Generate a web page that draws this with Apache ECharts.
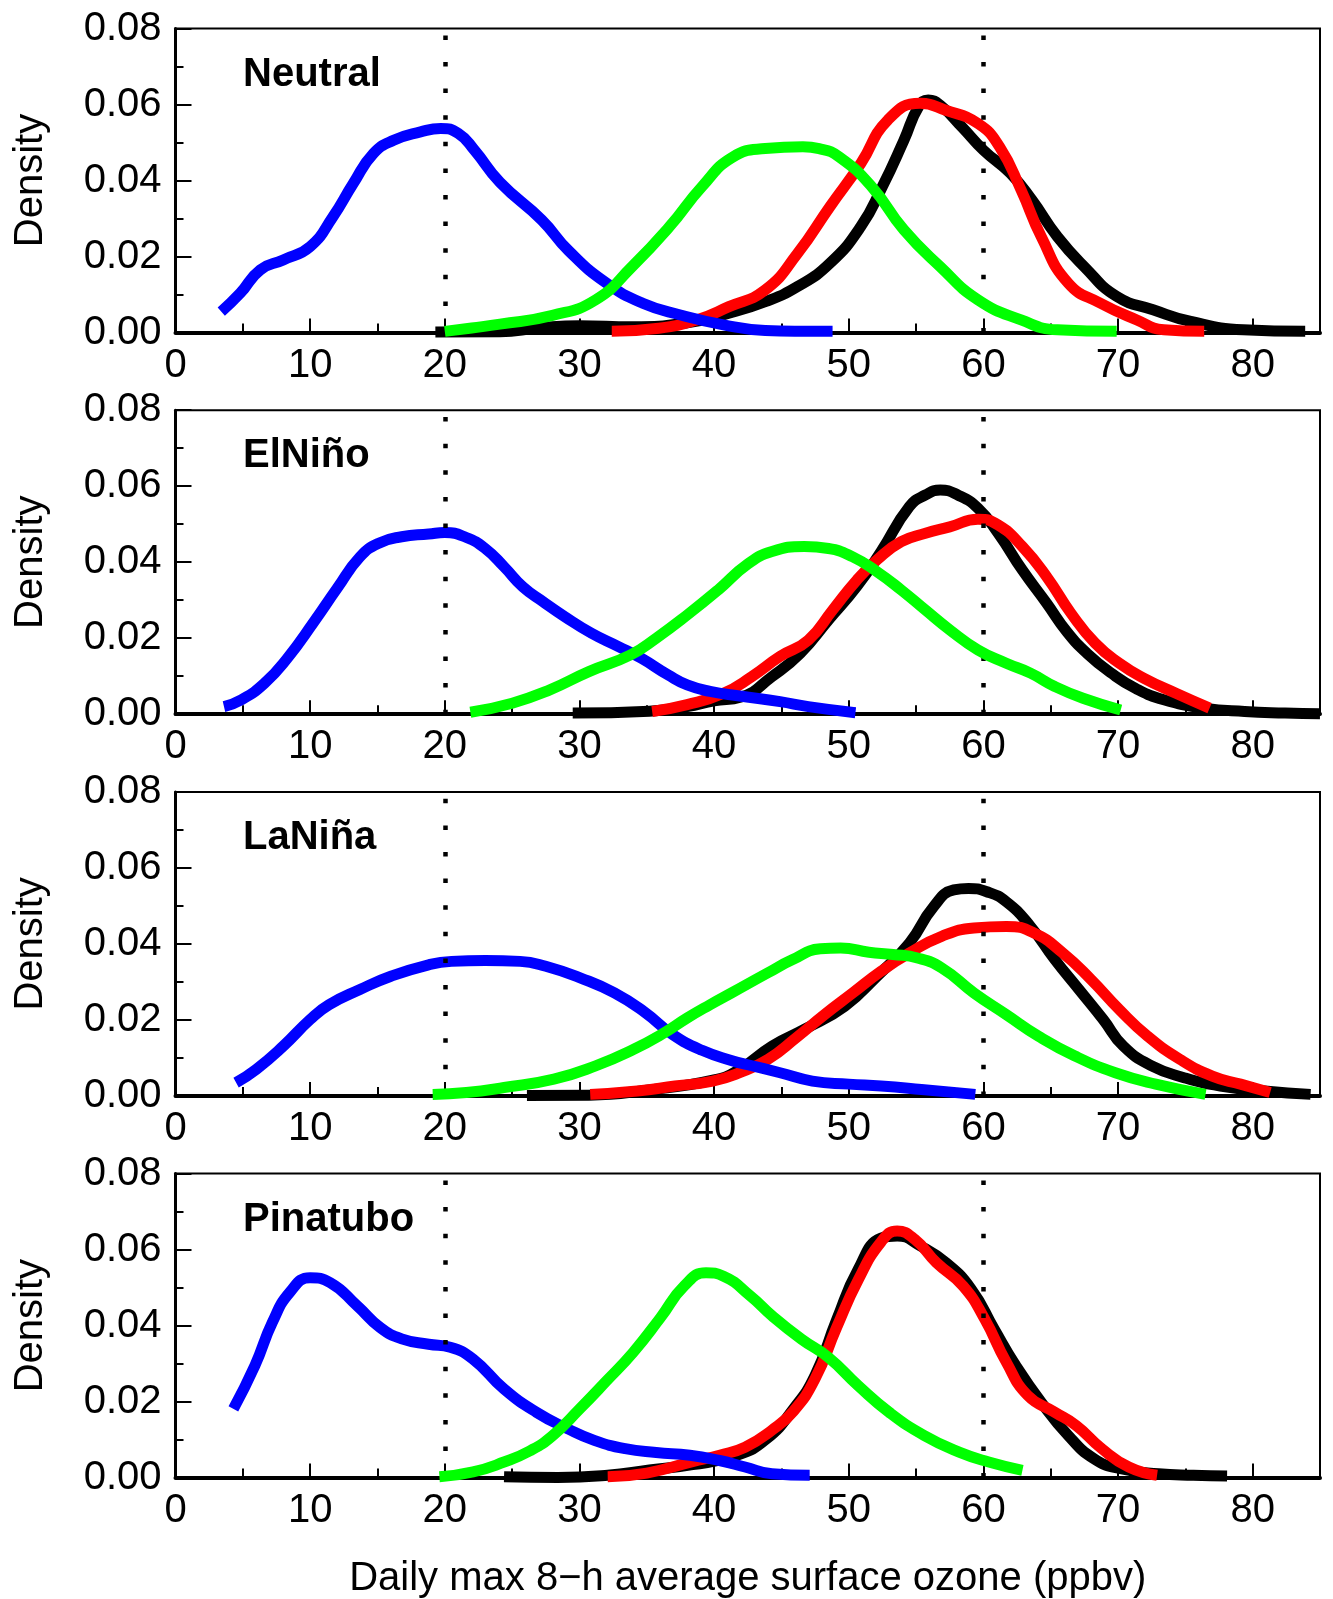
<!DOCTYPE html>
<html>
<head>
<meta charset="utf-8">
<script src="https://cdn.jsdelivr.net/npm/echarts@6/dist/echarts.min.js"></script>
<style>
html,body{margin:0;padding:0;background:#fff;}
#chart{width:1333px;height:1599px;}
</style>
</head>
<body>
<div id="chart"></div>
<script>
// ---------- DATA ----------
const panelNames = ['Neutral', 'ElNiño', 'LaNiña', 'Pinatubo'];
const xTicks = [0, 10, 20, 30, 40, 50, 60, 70, 80];
const yTicks = [0.00, 0.02, 0.04, 0.06, 0.08];
const thresholds = [20, 60];
const xTitle = 'Daily max 8\u2212h average surface ozone (ppbv)';
const yTitle = 'Density';

// Neutral
const neutralBlack = [[19.3,0.0001],[24.1,0.0002],[27,0.0012],[30.0,0.0018],[33.9,0.0015],[37.9,0.0025],[41.1,0.0051],[43.8,0.0081],[46.2,0.0121],[48.6,0.0182],[50.9,0.0279],[52.5,0.0384],[54.1,0.0506],[55.2,0.0595],[55.9,0.0612],[56.8,0.0598],[58.4,0.0541],[60.0,0.0480],[62.0,0.0419],[63.6,0.0349],[65.5,0.0252],[67.5,0.0173],[69.9,0.0095],[72.6,0.0060],[75.4,0.0029],[79.3,0.0007],[83.9,0.0003]];
const neutralRed = [[32.4,0.0003],[35.9,0.0011],[38.7,0.0033],[41.1,0.0068],[43.8,0.0112],[46.2,0.0208],[48.6,0.0331],[50.9,0.0445],[52.9,0.0559],[55.3,0.0603],[57.2,0.0585],[59.6,0.0550],[61.2,0.0489],[62.8,0.0375],[64.3,0.0252],[66.3,0.0130],[68.7,0.0077],[71.4,0.0033],[73.4,0.0007],[76.4,0.0003]];
const neutralBlue = [[3.4,0.0055],[4.8,0.0103],[6.3,0.0165],[8.0,0.0191],[10.0,0.0226],[11.7,0.0305],[13.2,0.0392],[14.7,0.0471],[16.2,0.0506],[18.2,0.0528],[19.7,0.0537],[21.0,0.0524],[22.2,0.0480],[24.1,0.0395],[27.2,0.0296],[29.2,0.0215],[32.0,0.0130],[34.7,0.0077],[37.5,0.0046],[40.7,0.0020],[43.8,0.0005],[46.0,0.0003],[48.8,0.0003]];
const neutralGreen = [[20.0,0.0003],[22,0.0012],[24.1,0.0022],[28.0,0.0045],[31.2,0.0086],[33.9,0.0173],[36.7,0.0279],[39.1,0.0384],[41.4,0.0462],[43.8,0.0484],[46.6,0.0489],[47.8,0.0484],[49.3,0.0462],[51.7,0.0384],[54.1,0.0270],[56.8,0.0173],[59.6,0.0086],[62.8,0.0033],[65.5,0.0007],[69.9,0.0003]];

// ElNiño
const elninoBlack = [[29.5,0.0003],[35.2,0.0008],[38.0,0.0020],[40.0,0.0035],[42.0,0.0045],[44.3,0.0099],[46.4,0.0160],[48.5,0.0248],[50.6,0.0336],[52.4,0.0428],[54.5,0.0546],[55.7,0.0577],[56.8,0.0590],[58.1,0.0577],[59.6,0.0542],[61.1,0.0476],[62.9,0.0379],[64.7,0.0292],[66.2,0.0217],[67.7,0.0160],[69.5,0.0108],[71.3,0.0068],[73.4,0.0038],[76.4,0.0016],[79.4,0.0007],[82.4,0.0003],[85.0,0.0001]];
const elninoRed = [[35.4,0.0007],[38.0,0.0025],[40.7,0.0055],[42.8,0.0099],[44.9,0.0152],[47.0,0.0195],[48.8,0.0274],[50.6,0.0353],[52.1,0.0406],[53.9,0.0454],[55.7,0.0476],[57.5,0.0493],[59.6,0.0513],[61.1,0.0498],[62.9,0.0441],[64.7,0.0362],[66.5,0.0266],[68.3,0.0187],[70.1,0.0134],[71.9,0.0095],[74.3,0.0055],[76.8,0.0016]];
const elninoBlue = [[3.6,0.0020],[4.9,0.0038],[6.6,0.0081],[8.3,0.0147],[10.3,0.0244],[12.0,0.0331],[13.7,0.0414],[15.1,0.0450],[16.8,0.0467],[18.8,0.0474],[20.0,0.0478],[21.6,0.0465],[23.0,0.0436],[24.4,0.0388],[25.8,0.0335],[27.3,0.0296],[28.9,0.0257],[30.9,0.0213],[32.9,0.0178],[34.6,0.0147],[36.6,0.0103],[38.0,0.0077],[39.7,0.0060],[41.9,0.0048],[44.9,0.0033],[47.0,0.0020],[50.5,0.0004]];
const elninoGreen = [[21.9,0.0005],[25.0,0.0029],[27.8,0.0064],[30.7,0.0112],[33.8,0.0156],[35.7,0.0200],[38.0,0.0261],[40.3,0.0327],[42.5,0.0395],[44.3,0.0428],[46.7,0.0441],[48.5,0.0436],[50.3,0.0414],[52.1,0.0375],[53.9,0.0327],[55.7,0.0274],[57.5,0.0222],[59.6,0.0169],[61.7,0.0134],[63.5,0.0108],[65.3,0.0073],[67.4,0.0042],[70.2,0.0011]];

// LaNiña
const laninaBlack = [[26.1,0.0001],[30.7,0.0002],[35,0.0015],[40.0,0.0042],[41.9,0.0070],[44.3,0.0131],[46.7,0.0175],[49.7,0.0236],[52.1,0.0315],[54.5,0.0402],[56.3,0.0498],[57.8,0.0542],[58.9,0.0546],[60.2,0.0538],[61.7,0.0511],[63.5,0.0446],[65.3,0.0359],[67.1,0.0280],[68.9,0.0201],[70.4,0.0131],[72.5,0.0079],[74.9,0.0048],[77.6,0.0026],[80.9,0.0013],[84.3,0.0004]];
const laninaRed = [[30.8,0.0004],[34.3,0.0013],[37.1,0.0026],[39.9,0.0039],[41.9,0.0061],[44.0,0.0096],[46.1,0.0153],[48.2,0.0214],[50.3,0.0271],[52.4,0.0328],[54.5,0.0376],[56.9,0.0420],[59.3,0.0442],[61.7,0.0446],[63.8,0.0428],[65.9,0.0376],[68.0,0.0306],[70.1,0.0227],[72.2,0.0157],[74.6,0.0096],[77.0,0.0052],[79.1,0.0031],[81.3,0.0009]];
const laninaBlue = [[4.5,0.0035],[6.0,0.0070],[8.0,0.0131],[10.0,0.0201],[11.4,0.0240],[13.7,0.0280],[16.0,0.0315],[18.8,0.0345],[20.5,0.0354],[23.0,0.0356],[25.6,0.0354],[27.5,0.0341],[30.1,0.0310],[32.6,0.0271],[34.9,0.0219],[36.9,0.0162],[39.1,0.0120],[41.4,0.0092],[42.5,0.0082],[44.9,0.0061],[47.3,0.0039],[50.0,0.0031],[52.4,0.0026],[55.4,0.0017],[59.4,0.0004]];
const laninaGreen = [[19.1,0.0004],[21.6,0.0009],[24.4,0.0022],[28.1,0.0044],[31.2,0.0079],[34.0,0.0122],[36.3,0.0166],[38.0,0.0205],[39.7,0.0240],[41.3,0.0271],[44.0,0.0324],[45.8,0.0358],[47.9,0.0387],[49.4,0.0389],[51.5,0.0378],[53.3,0.0372],[55.1,0.0363],[56.9,0.0337],[59.3,0.0271],[61.7,0.0214],[64.1,0.0157],[66.8,0.0105],[69.8,0.0061],[72.8,0.0031],[76.5,0.0004]];

// Pinatubo
const pinatuboBlack = [[24.4,0.0002],[28.4,0.0000],[32.1,0.0006],[35.2,0.0020],[38.4,0.0034],[41.7,0.0059],[43.9,0.0102],[45.9,0.0181],[47.5,0.0269],[49.1,0.0415],[50.7,0.0548],[52.4,0.0630],[53.6,0.0636],[55.3,0.0610],[57.2,0.0566],[59.1,0.0496],[60.8,0.0391],[62.4,0.0295],[64.3,0.0198],[66.3,0.0111],[68.2,0.0050],[70.1,0.0024],[73.0,0.0010],[75.6,0.0006],[78.1,0.0004]];
const pinatuboRed = [[32.1,0.0002],[35.0,0.0012],[38.4,0.0042],[40.4,0.0059],[42.3,0.0080],[44.3,0.0125],[45.9,0.0175],[47.5,0.0260],[49.1,0.0395],[50.7,0.0520],[52.4,0.0620],[53.6,0.0649],[54.9,0.0627],[56.5,0.0566],[58.5,0.0504],[60.1,0.0417],[61.7,0.0304],[63.3,0.0216],[65.3,0.0172],[66.9,0.0137],[68.8,0.0076],[70.8,0.0028],[72.9,0.0006]];
const pinatuboBlue = [[4.3,0.0181],[5.9,0.0295],[7.2,0.0409],[8.5,0.0488],[10.0,0.0526],[11.5,0.0513],[13.5,0.0452],[15.2,0.0395],[16.8,0.0365],[18.8,0.0351],[20.4,0.0343],[22.1,0.0312],[24.4,0.0233],[26.8,0.0172],[29.1,0.0129],[31.1,0.0098],[33.4,0.0076],[35.7,0.0066],[38.2,0.0059],[40.4,0.0045],[42.3,0.0028],[44.3,0.0010],[47.1,0.0006]];
const pinatuboGreen = [[19.6,0.0002],[22.1,0.0015],[24.4,0.0041],[26.3,0.0070],[28.0,0.0110],[30.0,0.0180],[32.0,0.0254],[34.0,0.0330],[36.0,0.0420],[37.8,0.0505],[39.4,0.0539],[40.7,0.0530],[42.7,0.0478],[44.3,0.0426],[46.5,0.0364],[48.5,0.0316],[50.7,0.0242],[53.0,0.0172],[55.6,0.0111],[58.2,0.0067],[60.4,0.0041],[62.9,0.0019]];

const panelSeries = [
  [neutralBlack, neutralRed, neutralBlue, neutralGreen],
  [elninoBlack, elninoRed, elninoBlue, elninoGreen],
  [laninaBlack, laninaRed, laninaBlue, laninaGreen],
  [pinatuboBlack, pinatuboRed, pinatuboBlue, pinatuboGreen]
];
const seriesColors = ['#000000', '#ff0000', '#0000ff', '#00ff00'];

// ---------- LAYOUT ----------
const FONT = '"Liberation Sans", Arial, Helvetica, sans-serif';
const gridLeft = 175.5, gridWidth = 1144.5, gridHeight = 304;
const gridTop0 = 28.5, gridStep = 381.7;

const grids = [], xAxes = [], yAxes = [], series = [], graphics = [];
for (let i = 0; i < 4; i++) {
  const top = gridTop0 + i * gridStep;
  grids.push({left: gridLeft, top: top, width: gridWidth, height: gridHeight,
    show: true, borderColor: '#000', borderWidth: 2, backgroundColor: 'transparent', containLabel: false});
  // major x axis
  xAxes.push({type: 'value', gridIndex: i, position: 'bottom', min: 0, max: 85, interval: 10,
    axisLine: {show: true, onZero: false, lineStyle: {color: '#000', width: 4}},
    axisTick: {show: true, inside: true, length: 14, lineStyle: {color: '#000', width: 2}},
    axisLabel: {show: true, color: '#000', fontSize: 40, fontFamily: FONT, margin: 13,
      showMaxLabel: false, formatter: v => (xTicks.indexOf(v) >= 0 ? String(v) : '')},
    splitLine: {show: false}});
  // minor x ticks
  xAxes.push({type: 'value', gridIndex: i, position: 'bottom', min: 0, max: 85, interval: 5,
    axisLine: {show: false}, axisLabel: {show: false}, splitLine: {show: false},
    axisTick: {show: true, inside: true, length: 9, lineStyle: {color: '#000', width: 2}}});
  yAxes.push({type: 'value', gridIndex: i, position: 'left', min: 0, max: 0.08, interval: 0.02,
    axisLine: {show: true, lineStyle: {color: '#000', width: 3}},
    axisTick: {show: true, inside: true, length: 16, lineStyle: {color: '#000', width: 2}},
    minorTick: {show: true, splitNumber: 2, length: 8, lineStyle: {color: '#000', width: 2}},
    axisLabel: {show: true, color: '#000', fontSize: 40, fontFamily: FONT, margin: 14,
      formatter: v => v.toFixed(2)},
    splitLine: {show: false}, minorSplitLine: {show: false}});

  // dotted threshold lines
  series.push({type: 'line', xAxisIndex: 2 * i, yAxisIndex: i, data: [], z: 1, silent: true,
    markLine: {silent: true, symbol: ['none', 'none'], animation: false, label: {show: false},
      lineStyle: {color: '#000', type: [4.5, 22.1], width: 4.5},
      emphasis: {disabled: true},
      data: thresholds.map(t => ({xAxis: t}))}});
  panelSeries[i].forEach((d, k) => {
    series.push({type: 'line', xAxisIndex: 2 * i, yAxisIndex: i, data: d, z: 2 + k,
      showSymbol: false, symbol: 'none', smooth: 0.5, clip: false, silent: true, animation: false,
      lineStyle: {color: seriesColors[k], width: 11, cap: 'butt', join: 'round'}});
  });

  graphics.push({type: 'text', x: 243, y: top + 46, silent: true,
    style: {text: panelNames[i], font: 'bold 40px ' + FONT, fill: '#000', textAlign: 'left', textVerticalAlign: 'middle'}});
  graphics.push({type: 'text', x: 31, y: top + gridHeight / 2, rotation: Math.PI / 2, silent: true,
    style: {text: yTitle, font: '40px ' + FONT, fill: '#000', textAlign: 'center', textVerticalAlign: 'middle'}});
}
graphics.push({type: 'text', x: gridLeft + gridWidth / 2, y: 1579, silent: true,
  style: {text: xTitle, font: '40px ' + FONT, fill: '#000', textAlign: 'center', textVerticalAlign: 'middle'}});

const chart = echarts.init(document.getElementById('chart'), null, {renderer: 'canvas'});
chart.setOption({
  animation: false,
  backgroundColor: '#ffffff',
  grid: grids,
  xAxis: xAxes,
  yAxis: yAxes,
  series: series,
  graphic: graphics
});
</script>
</body>
</html>
